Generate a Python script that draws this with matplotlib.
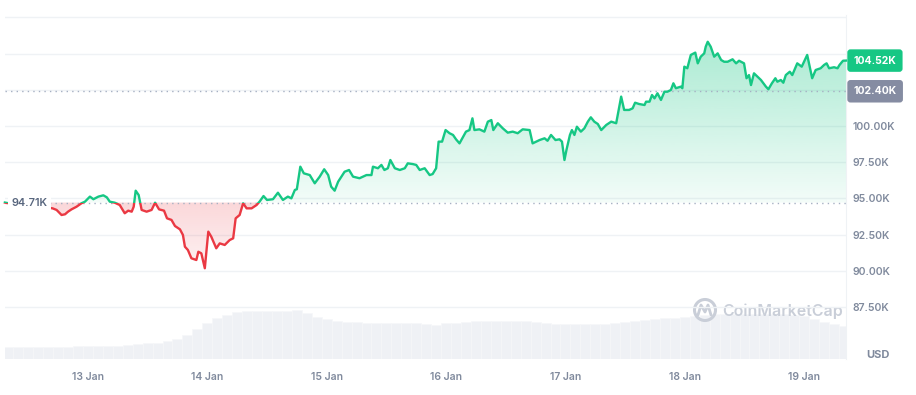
import numpy as np
import matplotlib
matplotlib.use("Agg")
import matplotlib.pyplot as plt
from matplotlib.colors import to_rgb
from matplotlib.patches import Rectangle, Circle, PathPatch
from matplotlib.path import Path
from matplotlib.transforms import blended_transform_factory

plt.rcParams["font.family"] = ["Inter", "DejaVu Sans"]

# ---- data (hours since 12 Jan 00:00, price in K USD) ----
hours = [7.3, 9.0, 12.0, 15.0, 16.9, 17.7, 18.7, 19.4, 20.0, 20.7, 21.7, 22.7, 23.4, 24.4,
         25.1, 26.1, 27.1, 27.8, 28.4, 29.4, 30.4, 31.4, 32.1, 32.8, 33.2, 33.6, 34.2, 34.8,
         35.8, 36.8, 37.5, 38.3, 39.3, 39.9, 40.8, 41.5, 42.5, 43.1, 43.5, 44.1, 44.8, 45.8,
         46.2, 46.8, 47.5, 48.2, 48.8, 49.8, 50.5, 51.5, 52.5, 53.2, 53.7, 54.5, 55.2, 55.9,
         56.9, 57.9, 58.5, 59.3, 60.0, 61.2, 62.2, 63.2, 64.2, 64.9, 65.6, 66.0, 66.7, 67.4,
         68.6, 69.6, 70.6, 71.5, 72.3, 72.9, 73.6, 74.3, 75.6, 76.5, 77.3, 78.6, 80.0, 81.0,
         81.3, 82.3, 83.0, 83.6, 84.3, 84.8, 85.7, 86.7, 87.7, 88.3, 89.3, 90.0, 90.7, 91.7,
         92.7, 93.3, 94.0, 94.5, 95.2, 95.9, 96.7, 97.4, 98.0, 98.7, 100.0, 100.7, 101.3, 101.7,
         102.7, 103.7, 104.4, 105.1, 105.5, 106.4, 107.4, 108.4, 109.4, 110.4, 111.4, 112.8,
         113.4, 114.8, 115.8, 116.4, 117.1, 118.0, 118.8, 119.3, 119.8, 120.2, 120.9, 121.3,
         121.8, 122.3, 123.1, 123.8, 124.5, 125.1, 125.8, 126.5, 127.2, 128.2, 129.2, 130.2,
         130.7, 131.2, 131.8, 132.8, 133.5, 134.0, 134.8, 135.9, 136.2, 136.9, 137.4, 137.9,
         138.5, 139.2, 139.9, 140.5, 141.2, 141.7, 142.2, 143.2, 143.5, 143.9, 144.5, 145.2,
         146.1, 146.6, 147.2, 147.9, 148.2, 148.6, 149.2, 149.9, 150.6, 151.3, 151.9, 152.6,
         153.6, 154.3, 154.9, 155.9, 156.4, 156.9, 157.3, 157.9, 158.6, 159.3, 159.8, 160.3,
         160.8, 161.5, 162.2, 162.6, 163.3, 163.8, 164.3, 165.1, 165.6, 166.6, 167.5, 168.6,
         169.1, 169.6, 170.3, 171.3, 172.0, 172.5, 173.0, 174.0, 174.7, 175.1, 175.8, 176.4]
price = [94.71, 94.60, 94.50, 94.40, 94.31, 94.20, 93.85, 93.90, 94.08, 94.24, 94.42, 94.66, 94.77, 95.12,
         94.94, 95.12, 95.21, 95.07, 94.77, 94.70, 94.54, 93.97, 94.15, 94.08, 94.42, 95.53, 95.23, 94.20,
         94.08, 94.20, 94.70, 94.24, 94.15, 93.62, 93.51, 93.09, 92.86, 92.47, 91.66, 91.43, 90.86, 90.74,
         91.31, 91.20, 90.17, 92.70, 92.35, 91.55, 91.89, 91.78, 92.12, 92.24, 93.62, 93.85, 94.66, 94.31,
         94.31, 94.54, 94.77, 95.16, 94.89, 94.94, 95.39, 94.89, 95.12, 95.00, 95.58, 95.63, 97.19, 96.73,
         96.61, 96.04, 96.50, 97.01, 96.61, 95.81, 95.53, 96.15, 96.84, 96.96, 96.50, 96.39, 96.61, 96.61,
         97.19, 97.08, 97.31, 96.96, 97.08, 97.65, 97.08, 96.96, 97.08, 97.42, 97.37, 97.31, 96.96, 97.08,
         96.61, 96.68, 97.08, 98.92, 98.92, 99.72, 99.50, 99.38, 99.08, 98.80, 99.61, 99.72, 100.53, 99.72,
         99.77, 99.61, 100.30, 100.41, 99.72, 100.19, 99.84, 99.54, 99.61, 99.50, 99.77, 99.72,
         98.80, 99.03, 99.15, 98.98, 99.38, 99.03, 99.08, 98.92, 97.65, 98.34, 99.38, 99.72,
         99.38, 99.95, 99.61, 99.84, 100.30, 100.60, 100.30, 100.14, 99.72, 100.07, 100.30, 100.19,
         101.11, 102.03, 101.11, 101.11, 101.22, 101.61, 101.52, 101.45, 101.68, 101.68, 102.14, 101.91,
         102.26, 101.80, 102.37, 102.37, 102.49, 102.95, 102.61, 102.72, 102.61, 104.10, 103.99, 104.91,
         105.07, 104.33, 104.79, 105.02, 105.48, 105.82, 105.48, 104.79, 105.02, 104.56, 104.44, 104.44,
         104.61, 104.33, 104.51, 104.33, 103.30, 103.52, 102.83, 103.64, 103.41, 103.18, 102.95, 102.72,
         102.54, 102.95, 103.30, 103.06, 103.18, 102.99, 103.52, 103.75, 103.52, 104.33, 104.10, 104.91,
         104.10, 103.30, 103.87, 103.99, 104.22, 104.33, 103.99, 104.06, 103.99, 104.22, 104.51, 104.52]

open_price = 94.71
ref_price = 102.40
last_price = 104.52

# 2-hour volume bars starting 12 Jan 08:00 (relative units)
vol_start = 8
vol_step = 2
volume = [5.9, 5.9, 5.9, 6.0, 6.0, 6.0, 6.1, 6.3, 6.4, 6.5, 6.5, 6.6, 6.8, 7.3, 7.8, 8.2,
          8.8, 9.8, 12.0, 15.0, 17.8, 20.5, 22.0, 23.3, 24.0, 24.0, 24.0, 24.0, 23.9, 24.3,
          23.0, 21.0, 19.8, 19.0, 18.5, 18.3, 18.0, 17.9, 17.9, 17.9, 17.9, 17.8, 17.3, 16.8,
          18.0, 18.2, 18.3, 18.8, 19.2, 19.0, 18.9, 18.8, 18.8, 18.5, 17.8, 17.5, 17.7, 17.7,
          17.5, 17.3, 17.5, 18.0, 18.5, 19.0, 19.4, 19.8, 20.3, 20.5, 20.9, 21.5, 22.0, 22.3,
          22.5, 22.5, 22.5, 22.5, 22.5, 22.5, 22.5, 22.0, 21.3, 20.0, 18.5, 17.3, 16.7]

day_ticks = [24, 48, 72, 96, 120, 144, 168]
day_labels = ["13 Jan", "14 Jan", "15 Jan", "16 Jan", "17 Jan", "18 Jan", "19 Jan"]
price_ticks = [87.5, 90.0, 92.5, 95.0, 97.5, 100.0]
grid_levels = [87.5, 90.0, 92.5, 95.0, 97.5, 100.0, 102.5, 105.0, 107.5]

GREEN = "#16c784"
RED = "#ea3943"
GREY = "#808a9d"
GRID = "#eff2f5"

hours = np.array(hours)
price = np.array(price)


# -------------------------------------------------------------------------------------------------/
def gradient_fill(ax, above, color, a_near, a_far):
    if above:
        poly = ax.fill_between(hours, price, open_price, where=price >= open_price,
                               interpolate=True, facecolor="none", edgecolor="none")
        lo, hi = open_price, price.max()
        alphas = np.linspace(a_near, a_far, 256)
    else:
        poly = ax.fill_between(hours, price, open_price, where=price <= open_price,
                               interpolate=True, facecolor="none", edgecolor="none")
        lo, hi = price.min(), open_price
        alphas = np.linspace(a_far, a_near, 256)
    rgba = np.zeros((256, 1, 4))
    rgba[..., :3] = to_rgb(color)
    rgba[:, 0, 3] = alphas
    im = ax.imshow(rgba, extent=[hours[0], hours[-1], lo, hi], origin="lower",
                   aspect="auto", zorder=2, interpolation="bilinear")
    clip = PathPatch(Path.make_compound_path(*poly.get_paths()), transform=ax.transData)
    im.set_clip_path(clip)


fig = plt.figure(figsize=(9.16, 3.95), dpi=100)
ax = fig.add_axes([5 / 916, 36 / 395, 841 / 916, 344 / 395])
ax2 = ax.twinx()
ax.set_zorder(ax2.get_zorder() + 1)
ax.patch.set_visible(False)

# volume
vol_x = vol_start + vol_step * np.arange(len(volume))
ax2.bar(vol_x, volume, width=vol_step, color="#eff1f5", edgecolor="#f6f7f9", linewidth=0.4,
        align="center", zorder=1)
ax2.set_ylim(0, 172)
ax2.set_yticks([])
for s in ax2.spines.values():
    s.set_visible(False)

# grid
for g in grid_levels:
    ax.axhline(g, color=GRID, lw=1, zorder=0)

gradient_fill(ax, True, GREEN, 0.05, 0.36)
gradient_fill(ax, False, RED, 0.20, 0.07)

up, = ax.plot(hours, price, color=GREEN, lw=1.7, zorder=4, solid_joinstyle="round")
up.set_clip_path(Rectangle((0, open_price), 400, 50, transform=ax.transData))
dn, = ax.plot(hours, price, color=RED, lw=1.7, zorder=4, solid_joinstyle="round")
dn.set_clip_path(Rectangle((0, open_price - 50), 400, 50, transform=ax.transData))

ax.axhline(open_price, color="#a6b0c3", lw=1, ls=(0, (1, 3)), zorder=3)
ax.axhline(ref_price, color="#a6b0c3", lw=1, ls=(0, (1, 3)), zorder=3)

ax.set_xlim(7.33, 176.4)
ax.set_ylim(83.90, 107.67)

# axes / ticks
for side in ["left", "top", "bottom"]:
    ax.spines[side].set_visible(False)
ax.spines["right"].set_color(GRID)
ax.yaxis.tick_right()
ax.set_yticks(price_ticks, [f"{v:.2f}K" for v in price_ticks])
ax.set_xticks(day_ticks, day_labels)
ax.tick_params(axis="y", length=0, pad=5, labelsize=7.5, labelcolor=GREY)
ax.tick_params(axis="x", length=0, pad=9, labelsize=7.5, labelcolor=GREY)
for lbl in ax.get_yticklabels() + ax.get_xticklabels():
    lbl.set_fontweight("semibold")

# labels
T = blended_transform_factory(ax.transAxes, ax.transData)
ax.text(0.008, open_price, f"{open_price:.2f}K", transform=T, ha="left", va="center",
        fontsize=7.8, color="#58667e", fontweight="semibold", zorder=6,
        bbox=dict(boxstyle="square,pad=0.3", fc="white", ec="none"))
ax.text(1.009, last_price, f"{last_price:.2f}K", transform=T, ha="left", va="center",
        fontsize=7.5, color="white", fontweight="bold", zorder=6,
        bbox=dict(boxstyle="round,pad=0.6,rounding_size=0.3", fc=GREEN, ec="none"))
ax.text(1.009, ref_price, f"{ref_price:.2f}K", transform=T, ha="left", va="center",
        fontsize=7.5, color="white", fontweight="bold", zorder=6,
        bbox=dict(boxstyle="round,pad=0.6,rounding_size=0.3", fc="#858ca2", ec="none"))
fig.text(866 / 916, 1 - 355 / 395, "USD", fontsize=8, fontweight="bold", color=GREY,
         ha="left", va="center")

# watermark
ov = fig.add_axes([0, 0, 1, 1])
ov.set_xlim(0, 916)
ov.set_ylim(395, 0)
ov.axis("off")
ov.patch.set_visible(False)
wm = "#c9ced8"
ov.add_patch(Circle((705, 310), 10.5, fill=False, ec=wm, lw=2.2))
ov.plot([698, 701, 705, 708, 711], [315, 305, 312, 305, 315], color=wm, lw=2, solid_capstyle="round")
ov.text(722, 311, "CoinMarketCap", fontsize=11.5, color=wm, fontweight="semibold",
        ha="left", va="center")

fig.savefig("out.png", dpi=100)
